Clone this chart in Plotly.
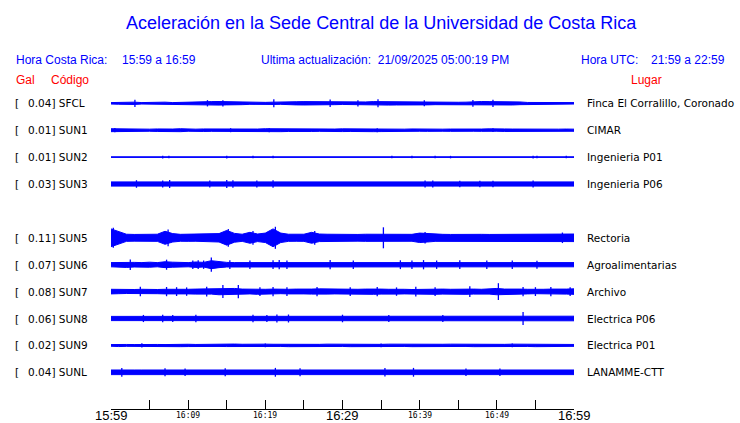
import plotly.graph_objects as go
from datetime import datetime, timedelta

# ---------------- data ----------------
title_text = "Aceleración en la Sede Central de la Universidad de Costa Rica"
codes = ["SFCL", "SUN1", "SUN2", "SUN3", "SUN5", "SUN6", "SUN7", "SUN8", "SUN9", "SUNL"]
rows = [0, 1, 2, 3, 5, 6, 7, 8, 9, 10]
gal_max = ["0.04", "0.01", "0.01", "0.03", "0.11", "0.07", "0.08", "0.06", "0.02", "0.04"]
places = ["Finca El Corralillo, Coronado", "CIMAR", "Ingenieria P01", "Ingenieria P06",
          "Rectoria", "Agroalimentarias", "Archivo", "Electrica P06", "Electrica P01", "LANAMME-CTT"]

tick_minutes = [0, 5, 10, 15, 20, 25, 30, 35, 40, 45, 50, 55, 60]
label_minutes = [0, 10, 20, 30, 40, 50, 60]
label_texts = ["15:59", "16:09", "16:19", "16:29", "16:39", "16:49", "16:59"]
big_labels = ["15:59", "16:29", "16:59"]

# envelope half-amplitude per minute (mGal)
env_SFCL = [7, 9, 7, 11, 7, 9, 7, 11, 7, 10, 8, 11,
            15, 16, 17, 15, 17, 13,
            10, 10, 9, 11, 10, 10,
            15, 16, 15, 17, 15, 13,
            11, 10, 11, 13,
            16, 15, 17, 16, 15, 14,
            14, 15, 13, 13,
            10, 10, 11,
            16, 17, 16, 17, 15, 16, 13,
            8, 7, 9, 7, 8, 7, 7]
env_SUN1 = [14, 12, 10, 11, 10, 10, 12, 10, 11, 14, 10, 10, 12, 11, 10, 13, 14, 12, 10, 11,
            14, 13, 14, 12, 11, 10, 12, 11, 10, 11, 13, 12, 10, 11, 14, 13, 12, 11, 10, 12,
            10, 11, 13, 10, 11, 10, 12, 10, 11, 13, 10, 12, 11, 10, 12, 11, 10, 11, 10, 11, 10]
env_SUN2 = [3, 3, 3, 3, 3, 3, 4, 5, 4, 3, 3, 3, 3, 4, 4, 5, 4, 3, 4, 4,
            4, 5, 4, 3, 3, 3, 3, 3, 4, 3, 3, 3, 3, 3, 3, 3, 3, 4, 3, 4,
            3, 4, 5, 5, 4, 3, 3, 3, 3, 3, 3, 3, 3, 4, 4, 4, 3, 3, 3, 3, 3]
env_SUN3 = [20, 20, 20, 21, 20, 20, 20, 23, 22, 20, 20, 20, 22, 20, 20, 23, 22, 20, 20, 22,
            20, 22, 20, 20, 20, 20, 20, 20, 20, 20, 20, 20, 20, 20, 20, 20, 20, 20, 20, 20,
            21, 21, 20, 20, 20, 21, 20, 20, 21, 21, 20, 20, 20, 20, 21, 20, 20, 20, 20, 20, 20]
env_SUN5 = [85, 60, 34, 32, 33, 32, 34, 62, 40, 33, 34, 33, 32, 36, 40, 70, 42, 34, 52, 36,
            45, 85, 45, 34, 33, 34, 52, 36, 34, 32, 34, 33, 32, 34, 33, 36, 32, 33, 34, 33,
            45, 40, 34, 33, 32, 34, 33, 32, 33, 32, 32, 33, 32, 32, 33, 32, 33, 32, 34, 36, 36]
env_SUN6 = [20, 22, 26, 22, 20, 24, 20, 28, 24, 20, 20, 26, 22, 38, 28, 22, 20, 20, 22, 20,
            20, 20, 24, 22, 20, 22, 20, 24, 26, 22, 20, 24, 20, 20, 24, 20, 20, 22, 24, 20,
            20, 22, 24, 22, 20, 20, 24, 20, 20, 22, 20, 24, 22, 20, 20, 22, 20, 20, 20, 20, 20]
env_SUN7 = [22, 20, 18, 20, 22, 18, 20, 22, 20, 24, 22, 24, 26, 24, 30, 26, 30, 24, 22, 26,
            22, 24, 20, 22, 24, 22, 24, 26, 24, 22, 20, 24, 22, 24, 26, 24, 22, 24, 22, 20,
            22, 24, 26, 24, 22, 24, 26, 24, 22, 24, 30, 24, 26, 24, 22, 20, 22, 24, 22, 24, 26]
env_SUN8 = [20, 20, 18, 20, 20, 18, 20, 22, 22, 22, 22, 22, 22, 22, 22, 22, 22, 22, 22, 22,
            22, 22, 22, 22, 22, 22, 22, 22, 22, 22, 22, 22, 22, 22, 22, 22, 22, 22, 22, 22,
            22, 22, 22, 22, 22, 22, 22, 22, 22, 22, 22, 22, 22, 24, 22, 22, 22, 22, 22, 22, 22]
env_SUN9 = [8, 11, 9, 8, 10, 11, 9, 8, 11, 12, 11, 9, 11, 12, 10, 11, 13, 11, 9, 11,
            12, 11, 10, 12, 11, 13, 11, 10, 12, 11, 10, 12, 11, 13, 11, 10, 12, 11, 10, 12,
            11, 10, 9, 11, 12, 11, 10, 12, 13, 12, 11, 10, 12, 11, 10, 12, 11, 10, 12, 11, 9]
env_SUNL = [22, 24, 22, 22, 22, 22, 22, 24, 22, 23, 22, 22, 22, 22, 24, 22, 22, 22, 22, 22,
            22, 23, 22, 22, 24, 22, 22, 22, 22, 22, 22, 22, 22, 22, 22, 23, 22, 22, 22, 24,
            22, 22, 22, 22, 22, 22, 23, 22, 22, 22, 23, 22, 22, 22, 22, 22, 22, 22, 22, 22, 22]

# isolated spikes: minute, half-amplitude (mGal)
spk_t_SFCL = [3.1, 12.5, 14.5, 21.1, 28.4, 32.0, 34.6, 40.6, 46.9, 49.5]
spk_a_SFCL = [35, 30, 30, 38, 36, 30, 38, 28, 32, 35]
spk_t_SUN1 = [0.5, 15.5, 20.5, 34.5, 49.5]
spk_a_SUN1 = [20, 19, 19, 19, 18]
spk_t_SUN2 = [6.7, 7.5, 15.0, 18.4, 21.0, 36.4, 39.0, 42.0, 44.0, 54.7, 55.2, 59.0]
spk_a_SUN2 = [14, 12, 14, 12, 12, 12, 12, 12, 12, 14, 12, 12]
spk_t_SUN3 = [3.3, 6.7, 7.6, 12.8, 15.0, 15.8, 18.9, 21.0, 40.7, 41.7, 45.2, 47.8, 49.5, 54.7]
spk_a_SUN3 = [36, 34, 38, 34, 38, 36, 34, 36, 34, 34, 32, 32, 32, 34]
spk_t_SUN5 = [0.3, 7.4, 15.2, 18.4, 21.3, 26.4, 35.3, 40.7, 58.5]
spk_a_SUN5 = [95, 80, 85, 65, 105, 65, 100, 55, 50]
spk_t_SUN6 = [2.5, 7.2, 10.6, 11.3, 12.0, 13.0, 15.4, 18.0, 21.0, 21.8, 22.8, 28.4, 31.4,
              37.5, 39.0, 40.5, 42.2, 45.2, 48.7, 52.0, 55.2]
spk_a_SUN6 = [50, 48, 40, 42, 40, 68, 42, 40, 42, 44, 40, 44, 40,
              42, 40, 44, 40, 42, 40, 40, 38]
spk_t_SUN7 = [3.8, 7.2, 8.5, 9.8, 12.4, 14.5, 16.5, 19.3, 21.0, 22.8, 26.7, 31.0, 34.5,
              37.0, 39.5, 42.0, 46.5, 50.2, 53.4, 55.0, 57.0, 59.5]
spk_a_SUN7 = [45, 44, 42, 40, 46, 62, 64, 42, 44, 42, 44, 42, 44,
              40, 46, 42, 52, 80, 44, 42, 44, 42]
spk_t_SUN8 = [4.2, 6.7, 8.0, 11.0, 18.4, 20.2, 21.5, 23.0, 30.0, 36.0, 43.0, 53.4]
spk_a_SUN8 = [34, 36, 34, 36, 36, 34, 38, 38, 36, 34, 34, 62]
spk_t_SUN9 = [4.0, 20.0, 35.0, 52.0]
spk_a_SUN9 = [20, 18, 18, 18]
spk_t_SUNL = [1.4, 7.0, 9.6, 14.8, 21.3, 24.5, 35.5, 39.2, 46.0, 50.4]
spk_a_SUNL = [42, 38, 36, 38, 42, 38, 40, 42, 36, 36]

# ---------------- styling / layout ----------------
W, H = 740, 423
X0, X1 = 111, 574          # pixel span of the time axis
AXIS_Y = 409               # pixel row of the time axis line
ROW0, ROW_STEP = 103.3, 26.9
PX_PER_MGAL = 0.105
BLUE = "#0000ff"
RED = "#ff0000"

start = datetime(2025, 9, 21, 15, 59)

def tm(m):
    return start + timedelta(minutes=m)

envs = [env_SFCL, env_SUN1, env_SUN2, env_SUN3, env_SUN5, env_SUN6, env_SUN7, env_SUN8, env_SUN9, env_SUNL]
spk_ts = [spk_t_SFCL, spk_t_SUN1, spk_t_SUN2, spk_t_SUN3, spk_t_SUN5, spk_t_SUN6, spk_t_SUN7, spk_t_SUN8, spk_t_SUN9, spk_t_SUNL]
spk_as = [spk_a_SFCL, spk_a_SUN1, spk_a_SUN2, spk_a_SUN3, spk_a_SUN5, spk_a_SUN6, spk_a_SUN7, spk_a_SUN8, spk_a_SUN9, spk_a_SUNL]

fig = go.Figure()
for code, row, env, st, sa in zip(codes, rows, envs, spk_ts, spk_as):
    c = ROW0 + ROW_STEP * row
    n = len(env)
    ts = [tm(60.0 * i / (n - 1)) for i in range(n)]
    xs = ts + ts[::-1]
    ys = [c - a * PX_PER_MGAL for a in env] + [c + a * PX_PER_MGAL for a in env[::-1]]
    fig.add_trace(go.Scatter(x=xs, y=ys, mode="lines", fill="toself", fillcolor=BLUE,
                             line=dict(color=BLUE, width=1), hoverinfo="skip",
                             showlegend=False))
    sx, sy = [], []
    for m, a in zip(st, sa):
        sx += [tm(m), tm(m), None]
        sy += [c - a * PX_PER_MGAL, c + a * PX_PER_MGAL, None]
    fig.add_trace(go.Scatter(x=sx, y=sy, mode="lines", line=dict(color=BLUE, width=1.3),
                             hoverinfo="skip", showlegend=False, connectgaps=False))

ann = []
def px(x):
    return x / W

def py_paper(y):
    return (AXIS_Y - y) / AXIS_Y

ann.append(dict(text=title_text, x=px(382), y=22.5, xref="paper", yref="y", showarrow=False,
                xanchor="center", yanchor="middle",
                font=dict(family="Liberation Sans, Arial", size=18, color=BLUE)))
hdr_font = dict(family="Liberation Sans, Arial", size=12, color=BLUE)
for txt, x in [("Hora Costa Rica:", 14), ("15:59 a 16:59", 120),
               ("Ultima actualización:  21/09/2025 05:00:19 PM", 259),
               ("Hora UTC:", 579), ("21:59 a 22:59", 649)]:
    ann.append(dict(text=txt, x=px(x), y=60, xref="paper", yref="y", showarrow=False,
                    xanchor="left", yanchor="middle", font=hdr_font))
red_font = dict(family="Liberation Sans, Arial", size=12, color=RED)
for txt, x in [("Gal", 14), ("Código", 49), ("Lugar", 629)]:
    ann.append(dict(text=txt, x=px(x), y=80, xref="paper", yref="y", showarrow=False,
                    xanchor="left", yanchor="middle", font=red_font))

lbl_font = dict(family="DejaVu Sans", size=10.5, color="black")
for code, row, g, place in zip(codes, rows, gal_max, places):
    c = ROW0 + ROW_STEP * row
    ann.append(dict(text="[", x=px(13), y=c, xref="paper", yref="y", showarrow=False,
                    xanchor="left", yanchor="middle", font=lbl_font))
    ann.append(dict(text=g + "] " + code, x=px(26), y=c, xref="paper", yref="y", showarrow=False,
                    xanchor="left", yanchor="middle", font=lbl_font))
    ann.append(dict(text=place, x=px(585), y=c, xref="paper", yref="y", showarrow=False,
                    xanchor="left", yanchor="middle", font=lbl_font))

# time axis labels
for m, lab in zip(label_minutes, label_texts):
    if lab in big_labels:
        f = dict(family="Liberation Sans, Arial", size=13, color="black")
        yy = 415.5
    else:
        f = dict(family="DejaVu Sans Mono", size=8, color="black")
        yy = 415.0
    ann.append(dict(text=lab, x=tm(m), y=py_paper(yy), xref="x", yref="paper", showarrow=False,
                    xanchor="center", yanchor="middle", font=f))

fig.update_layout(
    width=W, height=H, autosize=False,
    margin=dict(l=0, r=0, t=0, b=H - AXIS_Y, pad=0),
    paper_bgcolor="white", plot_bgcolor="white",
    showlegend=False,
    annotations=ann,
    xaxis=dict(domain=[X0 / W, X1 / W], range=[tm(0), tm(60)], type="date",
               tickvals=[tm(m) for m in tick_minutes], showticklabels=False,
               ticks="inside", ticklen=9, tickcolor="black", tickwidth=1,
               showline=True, linecolor="black", linewidth=1, mirror=False,
               showgrid=False, zeroline=False, automargin=False),
    yaxis=dict(range=[AXIS_Y, 0], visible=False, showgrid=False, zeroline=False,
               fixedrange=True),
)

fig.write_html("out.html", config={"displayModeBar": False},
               post_script="document.body.style.margin='0px';document.body.style.padding='0px';")
